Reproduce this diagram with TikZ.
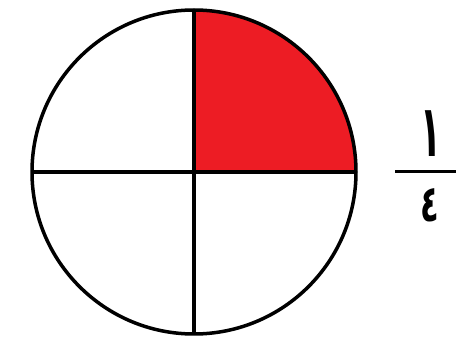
\documentclass[tikz,border=0pt]{standalone}
\usepackage{fontspec}
\usepackage{graphicx}
\newfontfamily\arabicfont[Script=Arabic]{DejaVu Sans}
\definecolor{qred}{RGB}{237,28,36}
\begin{document}
\begin{tikzpicture}[x=1pt,y=-1pt,
  outline/.style={line width=3.5pt,black},
  digit/.style={font=\arabicfont\bfseries,inner sep=0pt}]
\useasboundingbox (0,0) rectangle (456,342);
\coordinate (c) at (194,172);
\fill[qred] (c) -- (194,10) arc[start angle=-90,end angle=0,radius=162] -- cycle;
\draw[outline] (c) circle[radius=162];
\draw[outline] (194,10) -- (194,334);
\draw[outline] (32,172) -- (356,172);
\coordinate (fl) at (395,172);
\coordinate (fr) at (456,172);
\draw[line width=3pt] (fl) -- (fr);
\node[digit] (num) at (431,134) {\scalebox{0.9}[1.9]{\fontsize{38}{40}\selectfont ١}};
\node[digit] (den) at (430,205) {\scalebox{0.9}[1.5]{\fontsize{34}{36}\selectfont ٤}};
\end{tikzpicture}
\end{document}
